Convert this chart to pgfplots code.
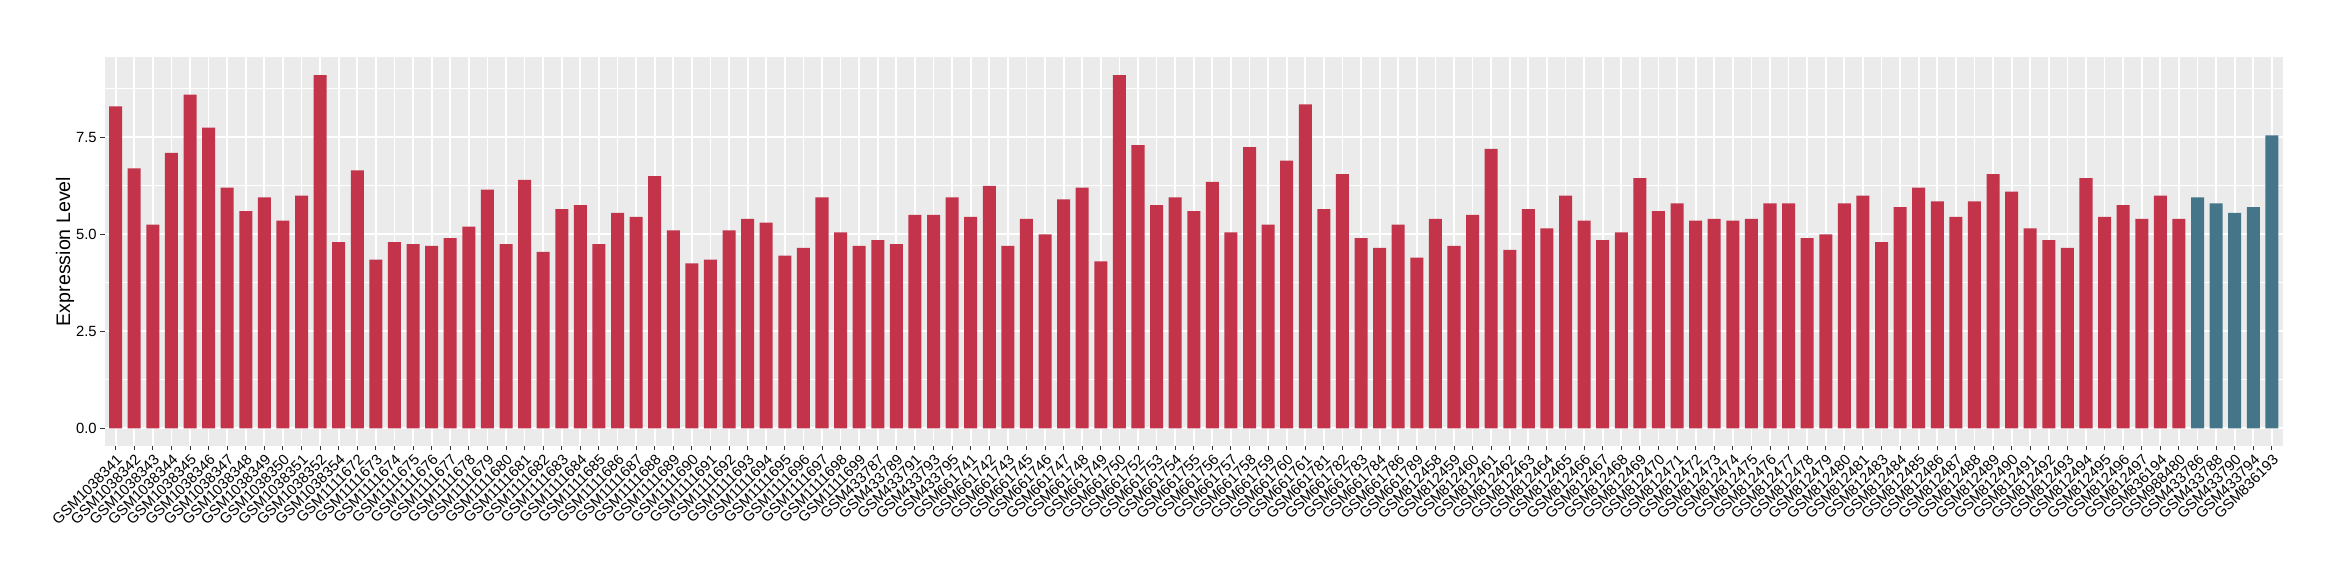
\documentclass[border=0pt]{standalone}
\usepackage{fontspec}
\setmainfont{Liberation Sans}
\usepackage{pgfplots}
\usepackage{pgfplotstable}
\pgfplotsset{compat=1.18}
\definecolor{barred}{RGB}{195,52,75}
\definecolor{barteal}{RGB}{68,117,137}
\definecolor{panelbg}{RGB}{235,235,235}
\definecolor{tickgray}{RGB}{51,51,51}
\pgfplotstableread{
x y
0 8.30
1 6.70
2 5.25
3 7.10
4 8.60
5 7.75
6 6.20
7 5.60
8 5.95
9 5.35
10 6.00
11 9.10
12 4.80
13 6.65
14 4.35
15 4.80
16 4.75
17 4.70
18 4.90
19 5.20
20 6.15
21 4.75
22 6.40
23 4.55
24 5.65
25 5.75
26 4.75
27 5.55
28 5.45
29 6.50
30 5.10
31 4.25
32 4.35
33 5.10
34 5.40
35 5.30
36 4.45
37 4.65
38 5.95
39 5.05
40 4.70
41 4.85
42 4.75
43 5.50
44 5.50
45 5.95
46 5.45
47 6.25
48 4.70
49 5.40
50 5.00
51 5.90
52 6.20
53 4.30
54 9.10
55 7.30
56 5.75
57 5.95
58 5.60
59 6.35
60 5.05
61 7.25
62 5.25
63 6.90
64 8.35
65 5.65
66 6.55
67 4.90
68 4.65
69 5.25
70 4.40
71 5.40
72 4.70
73 5.50
74 7.20
75 4.60
76 5.65
77 5.15
78 6.00
79 5.35
80 4.85
81 5.05
82 6.45
83 5.60
84 5.80
85 5.35
86 5.40
87 5.35
88 5.40
89 5.80
90 5.80
91 4.90
92 5.00
93 5.80
94 6.00
95 4.80
96 5.70
97 6.20
98 5.85
99 5.45
100 5.85
101 6.55
102 6.10
103 5.15
104 4.85
105 4.65
106 6.45
107 5.45
108 5.75
109 5.40
110 6.00
111 5.40
}\redtable
\pgfplotstableread{
x y
112 5.95
113 5.80
114 5.55
115 5.70
116 7.55
}\tealtable
\begin{document}
\begin{tikzpicture}
\path[use as bounding box] (0,0) rectangle (1170pt,290pt);
\begin{axis}[
  at={(52.25pt,67pt)}, anchor=south west,
  width=1089.25pt, height=194.5pt, scale only axis,
  xmin=-0.6, xmax=116.6,
  ymin=-0.456, ymax=9.57,
  axis background/.style={fill=panelbg},
  axis line style={draw=none},
  ybar, bar width=0.7,
  xtick={0,...,116},
  xticklabels={GSM1038341,GSM1038342,GSM1038343,GSM1038344,GSM1038345,GSM1038346,GSM1038347,GSM1038348,GSM1038349,GSM1038350,GSM1038351,GSM1038352,GSM1038354,GSM1111672,GSM1111673,GSM1111674,GSM1111675,GSM1111676,GSM1111677,GSM1111678,GSM1111679,GSM1111680,GSM1111681,GSM1111682,GSM1111683,GSM1111684,GSM1111685,GSM1111686,GSM1111687,GSM1111688,GSM1111689,GSM1111690,GSM1111691,GSM1111692,GSM1111693,GSM1111694,GSM1111695,GSM1111696,GSM1111697,GSM1111698,GSM1111699,GSM433787,GSM433789,GSM433791,GSM433793,GSM433795,GSM661741,GSM661742,GSM661743,GSM661745,GSM661746,GSM661747,GSM661748,GSM661749,GSM661750,GSM661752,GSM661753,GSM661754,GSM661755,GSM661756,GSM661757,GSM661758,GSM661759,GSM661760,GSM661761,GSM661781,GSM661782,GSM661783,GSM661784,GSM661786,GSM661789,GSM812458,GSM812459,GSM812460,GSM812461,GSM812462,GSM812463,GSM812464,GSM812465,GSM812466,GSM812467,GSM812468,GSM812469,GSM812470,GSM812471,GSM812472,GSM812473,GSM812474,GSM812475,GSM812476,GSM812477,GSM812478,GSM812479,GSM812480,GSM812481,GSM812483,GSM812484,GSM812485,GSM812486,GSM812487,GSM812488,GSM812489,GSM812490,GSM812491,GSM812492,GSM812493,GSM812494,GSM812495,GSM812496,GSM812497,GSM836194,GSM988480,GSM433786,GSM433788,GSM433790,GSM433794,GSM836193},
  xticklabel style={rotate=45, anchor=north east, inner sep=1pt, font=\fontsize{7.4}{8}\selectfont},
  ytick={0,2.5,5,7.5},
  yticklabels={0.0,2.5,5.0,7.5},
  yticklabel style={font=\fontsize{7.4}{8}\selectfont, inner sep=1.5pt},
  minor ytick={1.25,3.75,6.25,8.75},
  xmajorgrids, ymajorgrids, yminorgrids,
  major grid style={white, line width=0.9pt},
  minor grid style={white, line width=0.45pt},
  tick align=outside,
  major tick length=2.2pt,
  minor tick length=0pt,
  tick style={tickgray, line width=0.5pt},
  xtick pos=bottom, ytick pos=left,
]
\addplot[fill=barred, draw=none, bar shift=0pt] table[x=x,y=y] {\redtable};
\addplot[fill=barteal, draw=none, bar shift=0pt] table[x=x,y=y] {\tealtable};
\end{axis}
\node[rotate=90, font=\fontsize{9.8}{11}\selectfont] at (32.5pt,164.25pt) {Expression Level};
\end{tikzpicture}
\end{document}
